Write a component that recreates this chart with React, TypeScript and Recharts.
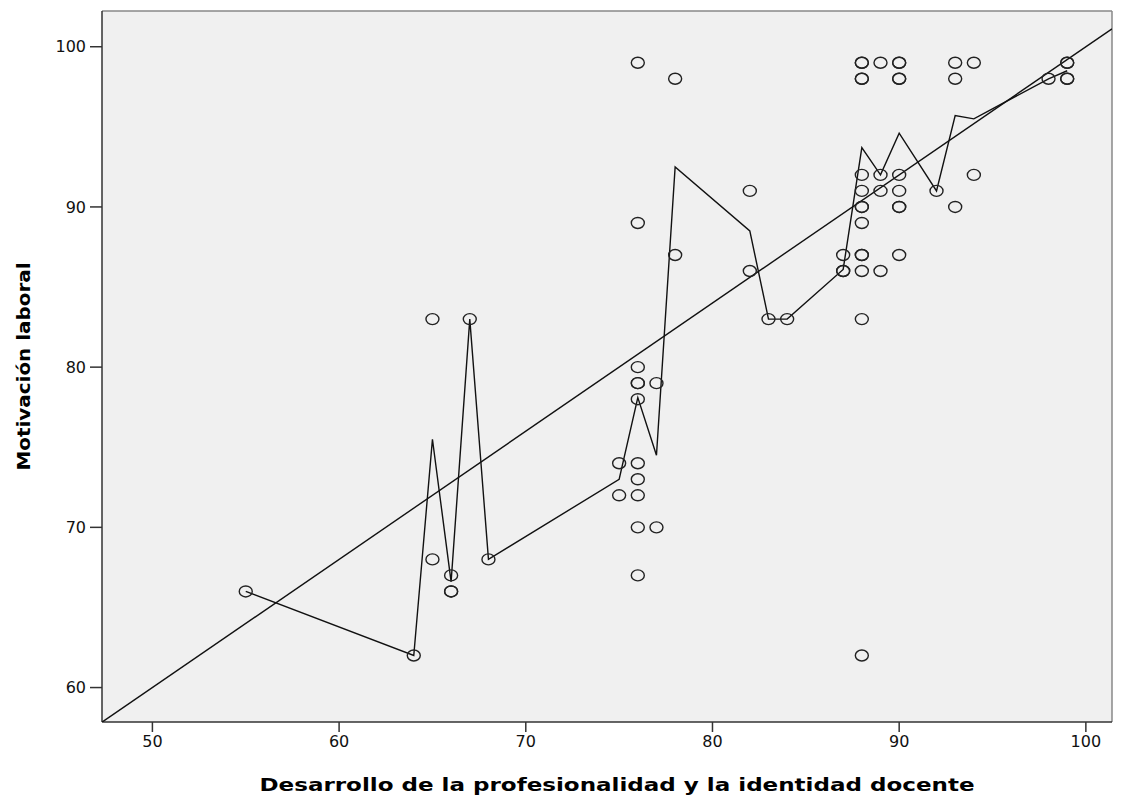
import { ScatterChart, Scatter, XAxis, YAxis, CartesianGrid, ReferenceLine } from 'recharts'

// Desarrollo de la profesionalidad (x) levels and the Motivación laboral scores seen at each level
const xLevels = [55, 64, 65, 66, 67, 68, 75, 76, 77, 78, 82, 83, 84, 87, 88, 89, 90, 92, 93, 94, 98, 99]
const yByLevel = [
    [66],
    [62],
    [83, 68],
    [67, 66, 66],
    [83],
    [68],
    [74, 72],
    [99, 89, 80, 79, 79, 78, 74, 73, 72, 70, 67],
    [79, 70],
    [98, 87],
    [91, 86],
    [83],
    [83],
    [87, 86, 86],
    [99, 99, 98, 98, 92, 91, 90, 90, 89, 87, 87, 86, 83, 62],
    [99, 92, 91, 86],
    [99, 99, 98, 98, 92, 91, 90, 90, 87],
    [91],
    [99, 98, 90],
    [99, 92],
    [98],
    [99, 99, 98, 98],
]
// mean line at each level
const meanByLevel = [66, 62, 75.5, 66.6, 83, 68, 73, 78.1, 74.5, 92.5, 88.5, 83, 83, 86.1, 93.7, 92, 94.6, 91, 95.7, 95.5, 98, 98.5]

// linear fit line
const fitIntercept = 20.0
const fitSlope = 0.8

const xTicks = [50, 60, 70, 80, 90, 100]
const yTicks = [60, 70, 80, 90, 100]
const xDomain: [number, number] = [47.3, 101.4]
const yDomain: [number, number] = [57.85, 102.23]

const points = xLevels.flatMap((x, i) => yByLevel[i].map((y) => ({ x, y })))
const meanLine = xLevels.map((x, i) => ({ x, y: meanByLevel[i] }))
const fitLine = xDomain.map((x) => ({ x, y: fitIntercept + fitSlope * x }))

const tickStyle = { fontFamily: '"DejaVu Sans", sans-serif', fontSize: 16, fill: '#111' }
const titleFont = '"DejaVu Sans", sans-serif'

const Ring = (props: any) => {
    const { cx, cy } = props
    if (cx == null || cy == null) return <g />
    return <ellipse cx={cx} cy={cy} rx={6.5} ry={5.5} fill="none" stroke="#222" strokeWidth={1.4} />
}

const NoDot = () => <g />

const XTitle = (props: any) => {
    const vb = props.viewBox || {}
    const cx = vb.x + vb.width / 2 + 10
    return (
        <text x={cx} y={791} textAnchor="middle" fontFamily={titleFont} fontWeight="bold" fontSize={18} fill="#000"
            textLength={715} lengthAdjust="spacingAndGlyphs">
            Desarrollo de la profesionalidad y la identidad docente
        </text>
    )
}

const YTitle = (props: any) => {
    const vb = props.viewBox || {}
    const cy = vb.y + vb.height / 2
    return (
        <text x={30} y={cy} transform={`rotate(-90, 30, ${cy})`} textAnchor="middle" fontFamily={titleFont}
            fontWeight="bold" fontSize={18} fill="#000" textLength={208} lengthAdjust="spacingAndGlyphs">
            Motivación laboral
        </text>
    )
}

export default function App() {
    return (
        <div style={{ position: 'absolute', left: 0, top: 0, width: 1132, height: 796, background: '#fff' }}>
            <ScatterChart width={1132} height={796} margin={{ top: 11, right: 20, left: 0, bottom: 0 }}>
                <CartesianGrid fill="#f0f0f0" horizontal={false} vertical={false} />
                <XAxis
                    type="number"
                    dataKey="x"
                    domain={xDomain}
                    ticks={xTicks}
                    allowDataOverflow
                    height={74}
                    tick={tickStyle}
                    tickSize={10}
                    tickMargin={4}
                    axisLine={{ stroke: '#333', strokeWidth: 1.5 }}
                    tickLine={{ stroke: '#333', strokeWidth: 1.5 }}
                    label={<XTitle />}
                />
                <YAxis
                    type="number"
                    dataKey="y"
                    domain={yDomain}
                    ticks={yTicks}
                    allowDataOverflow
                    width={102}
                    tick={tickStyle}
                    tickSize={12}
                    tickMargin={4}
                    axisLine={{ stroke: '#333', strokeWidth: 1.5 }}
                    tickLine={{ stroke: '#333', strokeWidth: 1.5 }}
                    label={<YTitle />}
                />
                <ReferenceLine y={yDomain[1]} stroke="#888" strokeWidth={1.5} />
                <ReferenceLine x={xDomain[1]} stroke="#888" strokeWidth={1.5} />
                <Scatter data={fitLine} line={{ stroke: '#111', strokeWidth: 1.4 }} shape={NoDot} isAnimationActive={false} />
                <Scatter data={meanLine} line={{ stroke: '#111', strokeWidth: 1.4 }} shape={NoDot} isAnimationActive={false} />
                <Scatter data={points} shape={Ring} isAnimationActive={false} />
            </ScatterChart>
        </div>
    )
}
